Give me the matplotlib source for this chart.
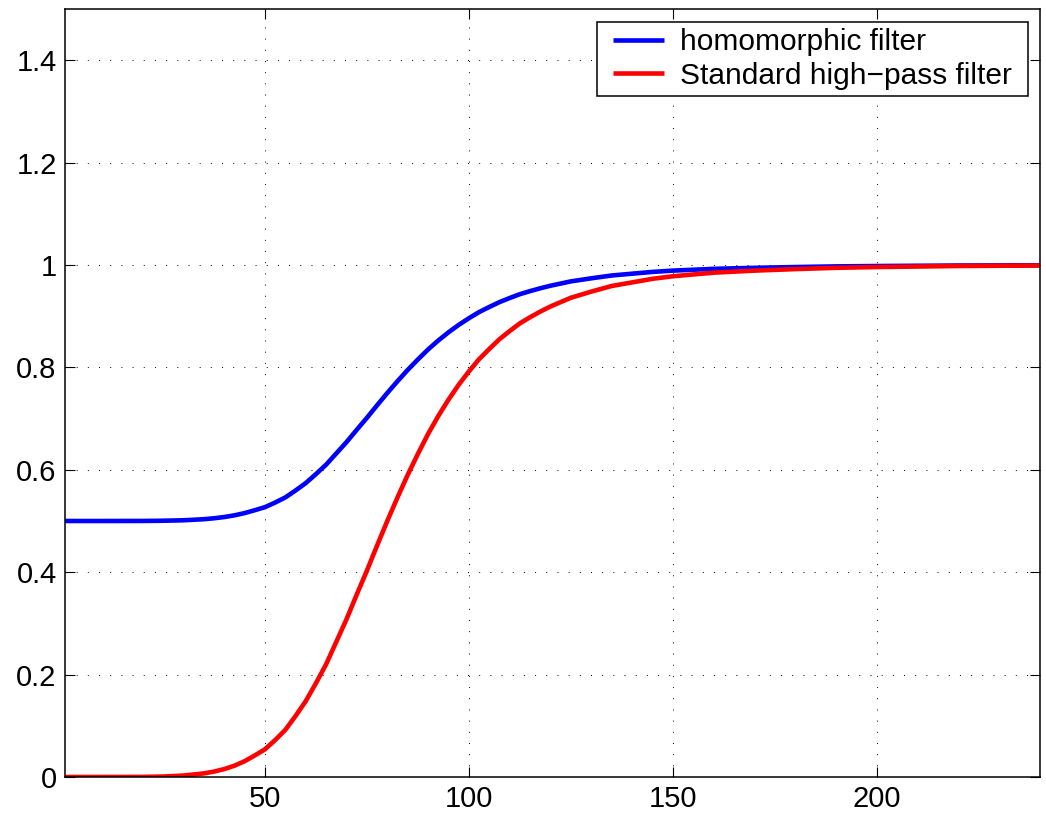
import matplotlib
matplotlib.use("Agg")
import matplotlib.pyplot as plt
from matplotlib.patches import Rectangle

# Frequency distance values (x) and read-off responses
x = [1, 10, 20, 25, 30, 35, 37.5, 40, 42.5, 45, 47.5, 50,
     52.5, 55, 57.5, 60, 62.5, 65, 67.5, 70, 72.5, 75, 77.5, 80,
     82.5, 85, 87.5, 90, 92.5, 95, 97.5, 100, 102.5, 105, 107.5, 110,
     112.5, 115, 117.5, 120, 125, 130, 135, 140, 145, 150, 160, 170,
     180, 190, 200, 220, 240]
standard_hp = [0.0, 0.0, 0.0002, 0.0009, 0.0028, 0.007, 0.0105, 0.0154, 0.022, 0.0307, 0.042, 0.054,
               0.072, 0.092, 0.119, 0.148, 0.183, 0.22, 0.264, 0.308, 0.356, 0.403, 0.452, 0.5,
               0.546, 0.59, 0.631, 0.67, 0.705, 0.737, 0.766, 0.792, 0.816, 0.836, 0.855, 0.871,
               0.886, 0.898, 0.909, 0.919, 0.936, 0.948, 0.959, 0.966, 0.973, 0.978, 0.985, 0.989,
               0.992, 0.9945, 0.996, 0.998, 0.999]
homomorphic = [0.5, 0.5, 0.5001, 0.5005, 0.5014, 0.5035, 0.5053, 0.5077, 0.511, 0.5154, 0.521, 0.527,
               0.536, 0.546, 0.5595, 0.574, 0.5915, 0.61, 0.632, 0.654, 0.678, 0.7015, 0.726, 0.75,
               0.773, 0.795, 0.8155, 0.835, 0.8525, 0.8685, 0.883, 0.896, 0.908, 0.918, 0.9275, 0.9355,
               0.943, 0.949, 0.9545, 0.9595, 0.968, 0.974, 0.9795, 0.983, 0.9865, 0.989, 0.9925, 0.9945,
               0.996, 0.9973, 0.998, 0.999, 0.9995]

labels = ["homomorphic filter", "Standard high\u2212pass filter"]
xticks = [50, 100, 150, 200]
yticks = [0, 0.2, 0.4, 0.6, 0.8, 1.0, 1.2, 1.4]
yticklabels = ["0", "0.2", "0.4", "0.6", "0.8", "1", "1.2", "1.4"]

plt.rcParams['font.family'] = ['Liberation Sans', 'DejaVu Sans']

W, H = 1046, 816
fig = plt.figure(figsize=(W / 100, H / 100), dpi=100)
ax = fig.add_axes([65/W, 39/H, 975/W, 768/H])

ax.plot(x, homomorphic, color=(0, 0, 1), lw=3.3, label=labels[0],
        solid_joinstyle='round', solid_capstyle='butt')
ax.plot(x, standard_hp, color=(1, 0, 0), lw=3.3, label=labels[1],
        solid_joinstyle='round', solid_capstyle='butt')

ax.set_xlim(1, 240)
ax.set_ylim(0, 1.5)
ax.set_xticks(xticks)
ax.set_yticks(yticks)
ax.set_yticklabels(yticklabels)

ax.grid(True, color='black', lw=0.7, linestyle=(0, (1, 10.5)))
ax.tick_params(direction='in', length=7, width=0.8, top=True, right=True,
               labelsize=21, pad=6)
for s in ax.spines.values():
    s.set_linewidth(1.1)

# legend without its own frame; a wider frame is drawn behind it
dx = 10  # extra horizontal padding in pixels
leg = ax.legend(loc='upper right', fontsize=21.5, frameon=False,
                handlelength=1.7, borderpad=0.2, labelspacing=0.2,
                handletextpad=0.55, borderaxespad=0,
                bbox_to_anchor=((1028 - dx) / W, 1 - 22 / H),
                bbox_transform=fig.transFigure)
fig.canvas.draw()
bb = leg.get_window_extent()
rect = Rectangle(((bb.x0 - dx) / W, bb.y0 / H), (bb.width + 2 * dx) / W, bb.height / H,
                 transform=fig.transFigure, facecolor='white', edgecolor='black',
                 lw=1.1, zorder=4)
fig.add_artist(rect)
leg.set_zorder(5)
leg.remove()
fig.add_artist(leg)

fig.savefig("out.png", dpi=100)
